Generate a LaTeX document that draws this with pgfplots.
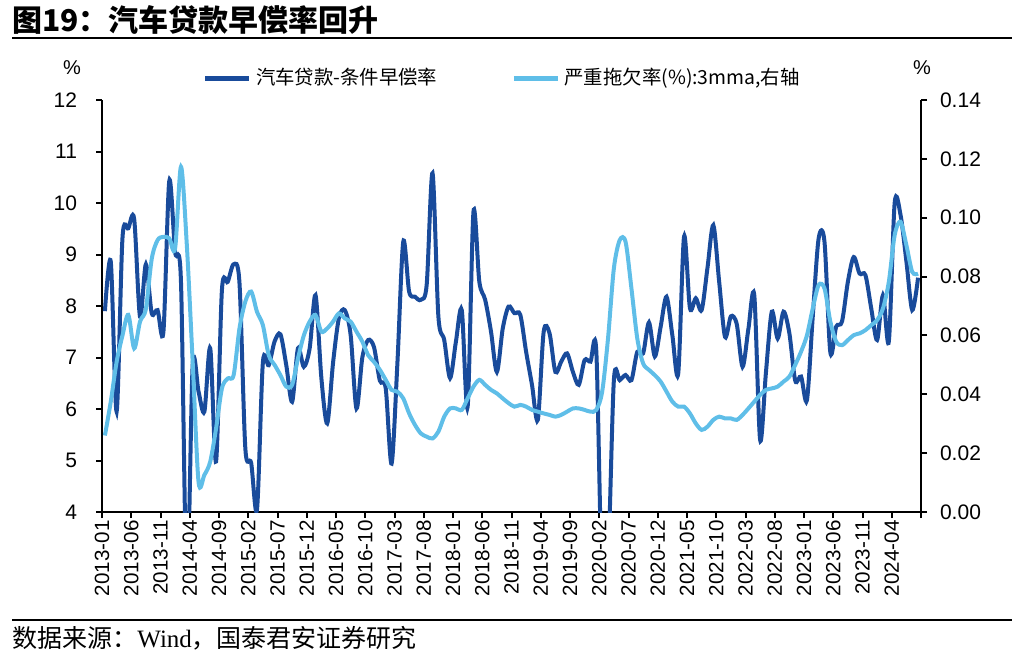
\documentclass[border=0pt]{standalone}
\usepackage{pgfplots}
\pgfplotsset{compat=1.18}
\usepackage{pgfplotstable}
\usepackage{fontspec}
\setmainfont{Liberation Sans}
\newfontfamily\cjk{Noto Sans CJK SC}
\definecolor{darkb}{RGB}{25,75,155}
\definecolor{lightb}{RGB}{95,190,232}
\pgfplotstableread{
x a b
0.5 7.90 0.026
1.5 8.86 0.0375
2.5 5.95 0.051
3.5 9.32 0.060
4.5 9.51 0.067
5.5 9.69 0.0556
6.5 7.79 0.0647
7.5 8.81 0.069
8.5 7.86 0.086
9.5 7.92 0.0924
10.5 7.50 0.0935
11.5 10.43 0.093
12.5 9.05 0.0896
13.5 8.47 0.1173
14.5 2.50 0.0907
15.5 6.85 0.051
16.5 6.34 0.0103
17.5 5.95 0.0126
18.5 7.18 0.0171
19.5 4.98 0.0284
20.5 8.31 0.042
21.5 8.47 0.0454
22.5 8.81 0.0465
23.5 8.45 0.0624
24.5 5.24 0.0715
25.5 4.95 0.0749
26.5 4.05 0.068
27.5 6.90 0.0635
28.5 6.85 0.0533
29.5 7.31 0.050
30.5 7.45 0.0465
31.5 6.85 0.0426
32.5 6.14 0.0432
33.5 7.18 0.0522
34.5 6.82 0.060
35.5 7.18 0.0647
36.5 8.21 0.0669
37.5 6.60 0.0613
38.5 5.72 0.0624
39.5 6.90 0.0647
40.5 7.77 0.0675
41.5 7.92 0.0658
42.5 7.44 0.0647
43.5 6.01 0.0613
44.5 7.00 0.0579
45.5 7.34 0.0533
46.5 7.20 0.051
47.5 6.55 0.0483
48.5 6.40 0.0449
49.5 4.94 0.0415
50.5 6.90 0.0409
51.5 9.25 0.0386
52.5 8.28 0.0335
53.5 8.18 0.0296
54.5 8.12 0.0267
55.5 8.41 0.0256
56.5 10.58 0.025
57.5 7.80 0.0273
58.5 7.34 0.0324
59.5 6.60 0.0352
60.5 7.31 0.0352
61.5 7.92 0.0347
62.5 6.04 0.0386
63.5 9.83 0.0426
64.5 8.47 0.0449
65.5 8.12 0.0432
66.5 7.50 0.0415
67.5 6.72 0.0403
68.5 7.56 0.0386
69.5 7.99 0.037
70.5 7.86 0.0358
71.5 7.83 0.0364
72.5 7.11 0.0358
73.5 6.47 0.0347
74.5 5.79 0.0341
75.5 7.50 0.0335
76.5 7.47 0.033
77.5 6.72 0.0324
78.5 6.92 0.033
79.5 7.08 0.0341
80.5 6.72 0.0352
81.5 6.47 0.0352
82.5 6.95 0.0347
83.5 6.92 0.0341
84.5 7.11 0.0347
85.5 2.50 0.0409
86.5 3.00 0.059
87.5 6.56 0.0828
88.5 6.56 0.0924
89.5 6.66 0.0918
90.5 6.56 0.076
91.5 7.11 0.059
92.5 7.08 0.0505
93.5 7.68 0.0483
94.5 7.02 0.0465
95.5 7.60 0.0443
96.5 8.18 0.0409
97.5 7.43 0.0375
98.5 6.69 0.0358
99.5 9.35 0.0358
100.5 7.96 0.0335
101.5 8.15 0.0301
102.5 7.92 0.0279
103.5 8.74 0.029
104.5 9.57 0.0313
105.5 8.47 0.0324
106.5 7.40 0.0318
107.5 7.80 0.0318
108.5 7.65 0.0313
109.5 6.82 0.033
110.5 7.56 0.0352
111.5 8.21 0.0375
112.5 5.40 0.0398
113.5 6.72 0.0415
114.5 7.89 0.042
115.5 7.37 0.0426
116.5 7.89 0.0443
117.5 7.47 0.046
118.5 6.55 0.050
119.5 6.63 0.0545
120.5 6.17 0.060
121.5 7.80 0.0692
122.5 9.31 0.0771
123.5 9.25 0.076
124.5 7.10 0.0647
125.5 7.60 0.0579
126.5 7.70 0.0567
127.5 8.47 0.0584
128.5 8.95 0.0601
129.5 8.63 0.0607
130.5 8.60 0.0618
131.5 7.95 0.0635
132.5 7.34 0.0652
133.5 8.21 0.0692
134.5 7.31 0.0782
135.5 10.00 0.0941
136.5 9.77 0.0986
137.5 8.87 0.0907
138.5 7.92 0.0816
139.5 8.55 0.081
}\datatable
\begin{document}
\begin{tikzpicture}[x=1pt,y=1pt]
\path (0,0) rectangle (512,327.5);
\node[anchor=west, inner sep=0] at (6,317.5) {\cjk\bfseries\fontsize{15}{18}\selectfont 图19：汽车贷款早偿率回升};
\draw[line width=1pt] (6,308.5) -- (506,308.5);
\draw[line width=0.6pt] (6,17.5) -- (506,17.5);
\node[anchor=west, inner sep=0] at (6,8.5) {\cjk\fontsize{12.5}{15}\selectfont 数据来源：{\fontspec{Liberation Serif}Wind}，国泰君安证券研究};
\node[inner sep=0] at (36,293.5) {\fontsize{10}{12}\selectfont \%};
\node[inner sep=0] at (461,293.5) {\fontsize{10}{12}\selectfont \%};
\begin{axis}[
  at={(51pt,71.5pt)}, anchor=south west,
  width=409.5pt, height=206pt, scale only axis,
  xmin=0, xmax=140, ymin=4, ymax=12,
  axis x line*=bottom, axis y line*=left,
  axis line style={line width=1pt, -},
  tick align=outside, major tick length=3pt,
  tick style={line width=1pt, black},
  xtick={0,5,...,140},
  xticklabels={2013-01,2013-06,2013-11,2014-04,2014-09,2015-02,2015-07,2015-12,2016-05,2016-10,2017-03,2017-08,2018-01,2018-06,2018-11,2019-04,2019-09,2020-02,2020-07,2020-12,2021-05,2021-10,2022-03,2022-08,2023-01,2023-06,2023-11,2024-04,},
  xticklabel style={rotate=90, anchor=east, font=\fontsize{10.3}{12}\selectfont, inner sep=1pt},
  ytick={4,5,...,12},
  yticklabel style={font=\fontsize{10.5}{12}\selectfont, xshift=-6pt},
  /pgf/number format/assume math mode=true,
  clip=true,
  legend style={at={(0.49,1.053)}, anchor=center, draw=none, fill=none,
    font=\cjk\fontsize{9.7}{11}\selectfont, legend columns=2,
    /tikz/every even column/.append style={column sep=35pt}},
  legend image code/.code={\draw[#1, line width=2.6pt] (0pt,0pt) -- (22pt,0pt);},
]
\addplot[darkb, line width=2pt, smooth, tension=0.5] table[x=x, y=a] {\datatable};
\addlegendentry{汽车贷款-条件早偿率}
\addlegendimage{lightb}
\addlegendentry{严重拖欠率(\%):3mma,右轴}
\end{axis}
\begin{axis}[
  at={(51pt,71.5pt)}, anchor=south west,
  width=409.5pt, height=206pt, scale only axis,
  xmin=0, xmax=140, ymin=0, ymax=0.14,
  axis x line=none, axis y line*=right,
  axis line style={line width=1pt, -},
  tick align=outside, major tick length=3pt,
  tick style={line width=1pt, black},
  ytick={0,0.02,...,0.141},
  yticklabel style={font=\fontsize{10.5}{12}\selectfont, xshift=3pt,
    /pgf/number format/.cd, fixed, fixed zerofill, precision=2},
  scaled y ticks=false,
  /pgf/number format/assume math mode=true,
]
\addplot[lightb, line width=2pt, smooth, tension=0.5] table[x=x, y=b] {\datatable};
\end{axis}
\end{tikzpicture}
\end{document}
